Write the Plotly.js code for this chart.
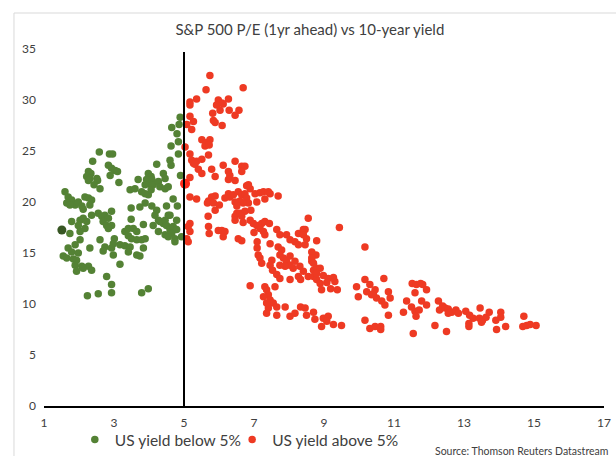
<!DOCTYPE html>
<html>
<head>
<meta charset="utf-8">
<script src="https://cdn.plot.ly/plotly-3.0.1.min.js"></script>
<style>html,body{margin:0;padding:0;background:#fff;}#chart{width:616px;height:456px;}</style>
</head>
<body>
<div id="chart"></div>
<script>
// US 10-year yield (%) and S&P 500 forward P/E, yield below 5%
const belowYield = [4.89,4.65,4.86,4.80,4.84,4.63,4.84,4.60,4.63,4.22,2.58,2.87,2.96,2.39,2.84,2.93,3.03,3.10,2.89,3.14,2.27,2.34,2.22,2.31,2.51,2.53,2.43,2.60,2.27,3.98,4.06,3.93,4.08,4.03,4.12,3.89,4.27,4.41,4.46,4.31,4.46,4.55,3.69,3.46,3.60,3.79,3.89,3.98,4.06,4.90,4.69,4.81,4.50,3.49,3.74,3.89,4.08,1.60,1.69,1.79,1.65,1.89,1.98,2.17,2.27,2.36,2.31,2.08,1.74,
  2.12,2.55,2.65,2.74,2.84,2.93,2.69,2.79,2.93,2.84,2.36,4.22,4.17,4.27,4.41,4.12,4.55,3.49,3.84,1.79,2.03,2.12,2.22,1.98,2.17,2.03,1.74,3.31,3.41,3.55,3.65,3.41,3.50,3.65,3.79,3.89,3.17,3.31,3.46,3.41,3.65,3.74,3.84,3.01,2.98,2.60,2.74,2.93,2.69,2.98,2.31,2.03,1.89,1.69,1.79,1.98,1.55,1.65,1.84,1.93,1.89,2.08,2.27,2.36,1.93,2.12,3.17,2.79,2.93,2.93,2.55,2.24,3.79,3.98,4.31,4.46,4.50,4.60,4.69,4.79,4.65,4.46,4.55,4.74,4.93,4.27,4.60,4.79,4.74];
const belowPE = [28.3,27.3,27.6,26.7,25.9,25.5,24.7,24.1,23.6,23.7,24.9,24.7,24.7,24.0,23.6,23.3,23.1,23.0,22.6,21.9,23.0,22.8,22.5,22.3,22.3,22.1,21.7,21.3,22.1,22.8,22.5,22.2,22.2,21.8,21.7,21.7,22.0,22.8,22.3,21.5,21.3,21.5,22.2,21.2,21.3,21.0,20.8,20.7,21.2,22.6,20.3,19.6,19.6,19.4,19.5,19.9,19.6,21.0,20.5,20.2,19.9,19.7,20.0,20.5,20.4,20.2,19.7,19.6,19.7,
  19.3,18.9,18.6,18.7,18.4,19.1,18.1,17.7,17.7,17.4,18.7,19.2,18.7,18.2,17.9,17.7,18.7,18.3,17.8,18.1,18.2,18.4,18.1,17.7,17.4,17.1,16.9,17.1,17.4,17.4,17.1,16.7,16.4,16.3,16.3,16.4,15.8,15.7,15.6,15.1,14.8,14.7,15.5,16.4,15.9,16.3,15.6,15.5,15.2,14.8,15.5,16.3,15.8,15.5,15.1,15.0,14.7,14.5,14.4,14.3,13.8,13.7,13.7,13.3,13.2,13.5,13.9,12.7,11.9,11.1,11.0,10.8,11.1,11.5,18.1,18.2,17.7,17.3,17.6,17.3,16.9,16.8,16.6,16.4,16.6,17.1,18.7,18.2,16.1];

// yield above 5%
const aboveYield = [5.74,5.63,6.69,5.36,5.17,5.17,5.98,5.93,6.08,6.12,6.27,6.03,6.29,6.57,6.46,5.82,5.84,5.89,6.09,5.17,5.27,5.08,5.22,5.51,5.74,5.63,5.60,5.72,5.03,5.17,5.70,5.22,5.27,5.36,5.51,5.31,5.41,5.51,5.79,5.89,6.12,6.46,6.27,6.31,6.27,6.46,6.65,6.74,6.65,5.17,
  5.17,5.36,5.70,5.79,5.89,5.67,5.84,6.01,6.27,6.31,6.41,6.55,6.65,6.74,6.84,6.89,6.79,6.84,6.69,6.60,6.46,6.51,7.03,7.17,7.27,7.41,7.46,7.08,7.31,7.69,6.51,6.46,6.60,6.74,6.91,6.65,6.69,6.89,6.98,7.08,7.22,7.31,7.44,7.17,7.27,7.31,7.00,5.70,5.72,5.98,6.08,6.17,6.12,5.17,5.12,5.17,5.08,5.12,6.55,6.65,7.09,7.46,7.65,7.74,7.93,8.03,8.17,8.27,8.41,8.55,8.46,8.79,8.27,7.69,7.79,7.74,7.84,7.93,8.03,7.89,8.12,7.74,8.03,8.17,8.31,8.41,8.55,8.70,8.79,8.70,8.79,7.51,7.46,7.53,7.65,7.74,7.12,7.17,7.22,7.09,6.89,7.31,7.36,7.41,7.27,7.46,7.55,7.65,7.41,7.36,7.60,7.89,8.03,8.17,8.33,8.46,8.50,7.65,7.36,8.03,8.27,8.33,8.77,8.65,
  9.44,8.46,8.41,8.50,8.65,8.65,8.70,10.17,8.89,8.79,8.98,9.12,9.27,9.31,9.08,8.89,9.19,9.38,8.93,8.70,8.74,8.98,9.12,9.08,9.27,9.50,8.93,9.93,9.98,10.17,10.31,10.46,10.22,10.36,10.50,10.65,10.71,10.84,10.89,10.74,10.84,10.17,10.31,10.46,10.62,10.41,10.62,11.36,11.50,11.60,11.63,11.27,11.72,11.79,11.93,11.52,11.64,11.76,11.82,11.60,11.93,12.27,12.30,12.17,11.55,12.50,12.39,12.46,12.55,12.65,12.77,12.55,12.84,13.05,13.16,13.26,13.14,13.14,13.46,13.53,13.44,13.63,13.72,13.91,13.93,14.05,14.05,14.19,14.71,14.68,14.79,14.89,15.06,13.50,
  5.89,5.69,6.17,6.79,6.46];
const abovePE = [32.4,31.0,31.2,30.1,29.8,29.5,30.0,29.5,29.7,29.6,30.1,29.0,29.0,29.0,28.5,28.7,28.0,27.8,27.5,28.4,27.9,27.6,27.1,26.1,26.1,25.8,25.5,25.6,25.4,24.7,24.6,24.1,23.8,24.0,24.2,23.7,23.2,22.8,23.2,22.5,23.6,24.0,23.0,22.6,22.2,22.1,23.5,23.5,23.0,22.4,
  20.5,20.3,20.1,20.5,20.6,19.9,19.9,19.7,20.8,20.5,20.7,21.0,20.7,20.8,21.7,21.3,20.4,19.9,19.9,20.1,20.0,19.6,20.8,20.9,21.0,21.0,20.8,20.0,20.3,20.6,18.9,18.6,18.9,19.1,19.2,18.6,18.0,18.2,17.9,17.7,17.9,18.1,17.9,17.4,17.1,16.8,17.0,17.6,16.9,17.2,17.2,17.1,16.6,17.9,17.6,17.1,16.4,16.1,16.4,16.2,16.1,15.9,17.3,16.8,16.8,16.3,16.1,16.9,17.3,18.4,15.8,16.2,15.8,15.6,15.3,14.8,14.5,14.2,13.8,13.7,13.5,13.8,14.7,14.2,13.7,13.2,12.7,12.7,12.4,13.3,13.5,14.3,13.8,13.3,12.9,12.5,14.8,14.5,14.0,15.5,11.8,11.7,11.4,10.9,10.7,10.4,10.1,9.7,9.6,10.1,11.7,9.7,8.8,9.1,9.7,9.6,8.9,8.9,9.1,12.4,12.7,12.4,14.8,14.2,
  17.5,17.3,16.8,16.4,15.1,14.5,14.0,15.6,13.5,13.0,12.8,12.5,12.6,12.2,12.1,12.0,11.5,11.4,11.4,9.2,8.5,8.6,8.8,8.3,8.0,7.9,7.8,11.7,10.7,12.4,11.9,11.4,11.2,10.9,10.6,10.3,12.5,11.2,10.6,9.9,8.9,8.4,7.6,7.8,7.8,11.0,7.5,10.3,9.7,9.3,8.8,9.2,9.4,10.3,9.9,12.0,11.9,12.0,11.9,11.1,11.4,10.3,9.4,7.9,7.1,7.3,9.8,9.6,9.5,9.2,9.4,9.1,9.1,9.3,8.9,8.6,8.1,7.8,9.6,8.4,8.6,8.7,9.2,8.4,7.5,9.2,8.7,7.8,8.8,7.8,7.9,8.0,7.9,8.2,
  19.2,18.6,20.4,21.6,18.2];

// highlighted points
const latestBelow = {x: [1.51], y: [17.25]};
const latestAbove = {x: [5.03], y: [21.8]};

const divider = 5;
const xTicks = [1,3,5,7,9,11,13,15,17];
const yTicks = [0,5,10,15,20,25,30,35];

const GREEN = '#548235', RED = '#EE3A23';
const FONT = 'Lato, "Open Sans", sans-serif';

const traces = [
  {type:'scatter', mode:'markers', name:'US yield below 5%', x: belowYield, y: belowPE,
   marker:{color:GREEN, size:7.5}, hoverinfo:'x+y', legend:'legend'},
  {type:'scatter', mode:'markers', name:'US yield above 5%', x: aboveYield, y: abovePE,
   marker:{color:RED, size:7.5}, hoverinfo:'x+y', legend:'legend2'},
  {type:'scatter', mode:'markers', x: latestBelow.x, y: latestBelow.y, showlegend:false,
   marker:{color:'#375623', size:9}},
  {type:'scatter', mode:'markers', x: latestAbove.x, y: latestAbove.y, showlegend:false,
   marker:{color:'#FF2A1A', size:10}}
];

const legendStyle = (x) => ({orientation:'h', x:x, xanchor:'left', y:-0.095, yanchor:'middle',
  font:{family:FONT, size:15.5, color:'#404040'}, itemwidth:30, bgcolor:'rgba(0,0,0,0)'});

const layout = {
  width:616, height:456,
  margin:{l:44, r:12, t:49, b:50, autoexpand:false},
  paper_bgcolor:'#fff', plot_bgcolor:'#fff',
  font:{family:FONT, color:'#404040', size:12},
  title:{text:'S&amp;P 500 P/E (1yr ahead) vs 10-year yield', x:0.503, xanchor:'center',
         y:0.935, yanchor:'middle', font:{family:FONT, size:15, color:'#404040'}},
  xaxis:{range:[1,17], tickvals:xTicks, ticktext:xTicks.map(String), showgrid:false, zeroline:false,
         showline:true, linecolor:'#000', linewidth:2, ticks:'', ticklabelstandoff:5,
         tickfont:{size:12, color:'#404040'}, fixedrange:true},
  yaxis:{range:[0,35], tickvals:yTicks, ticktext:yTicks.map(String), showgrid:false, zeroline:false,
         showline:false, ticks:'', ticklabelstandoff:7, tickfont:{size:12, color:'#404040'}, fixedrange:true},
  showlegend:true,
  legend: legendStyle(0.055),
  legend2: legendStyle(0.336),
  shapes:[
    {type:'line', xref:'x', yref:'y', x0:divider, x1:divider, y0:0, y1:34.7,
     line:{color:'#000', width:2}, layer:'above'},
    {type:'rect', xref:'paper', yref:'paper', x0:-0.0536, x1:1.2, y0:-0.5, y1:1.1008,
     line:{color:'#D9D9D9', width:1}, fillcolor:'rgba(0,0,0,0)', layer:'below'}
  ],
  annotations:[
    {text:'Source: Thomson Reuters Datastream', xref:'paper', yref:'paper', x:1.011, xanchor:'right',
     y:-0.126, yanchor:'middle', showarrow:false, font:{family:FONT, size:10.5, color:'#404040'}}
  ]
};

Plotly.newPlot('chart', traces, layout, {displayModeBar:false, staticPlot:true});
</script>
</body>
</html>
